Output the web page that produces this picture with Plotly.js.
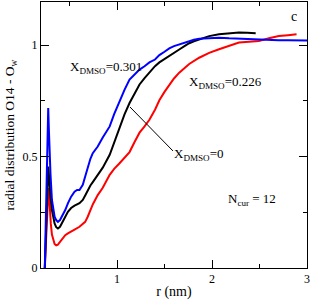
<!DOCTYPE html>
<html>
<head>
<meta charset="utf-8">
<script src="https://cdn.plot.ly/plotly-3.0.1.min.js"></script>
<style>html,body{margin:0;padding:0;background:#fff;}#chart{width:312px;height:300px;}</style>
</head>
<body>
<div id="chart"></div>
<script>
// r (nm) and g(r) values
const rBlue = [0.24,0.255,0.268,0.276,0.283,0.291,0.30,0.315,0.33,0.343,0.36,0.378,0.40,0.43,0.455,0.483,0.517,0.553,0.58,0.605,0.64,0.665,0.692,0.72,0.745,0.797,0.85,0.923,0.97,1.027,1.08,1.132,1.185,1.237,1.29,1.341,1.40,1.446,1.50,1.55,1.60,1.655,1.70,1.76,1.81,1.865,1.92,1.97,2.074,2.18,2.284,2.4,2.5,2.6,2.7,2.8,2.9,3.0];
const gBlue = [0,0.25,0.5,0.718,0.62,0.5,0.42,0.305,0.26,0.23,0.215,0.207,0.215,0.237,0.26,0.29,0.32,0.342,0.35,0.35,0.373,0.41,0.455,0.49,0.515,0.545,0.585,0.635,0.69,0.75,0.80,0.845,0.868,0.89,0.905,0.922,0.935,0.955,0.97,0.985,0.995,1.003,1.01,1.018,1.024,1.028,1.03,1.032,1.033,1.03,1.028,1.025,1.024,1.023,1.022,1.022,1.021,1.02];

const rBlack = [0.24,0.255,0.268,0.276,0.283,0.291,0.30,0.315,0.33,0.343,0.36,0.378,0.40,0.43,0.455,0.483,0.517,0.553,0.605,0.64,0.665,0.692,0.72,0.745,0.797,0.85,0.923,0.97,1.027,1.08,1.132,1.185,1.237,1.29,1.341,1.40,1.446,1.50,1.551,1.60,1.655,1.71,1.76,1.81,1.865,1.92,1.97,2.074,2.18,2.284,2.37,2.46];
const gBlack = [0,0.2,0.38,0.455,0.42,0.365,0.32,0.26,0.22,0.2,0.183,0.177,0.185,0.207,0.23,0.252,0.269,0.28,0.291,0.305,0.325,0.35,0.37,0.385,0.418,0.45,0.508,0.565,0.635,0.69,0.74,0.785,0.823,0.852,0.877,0.905,0.922,0.936,0.95,0.965,0.98,0.995,1.008,1.017,1.026,1.034,1.04,1.048,1.052,1.056,1.055,1.053];

const rRed = [0.24,0.255,0.268,0.278,0.285,0.293,0.303,0.315,0.33,0.343,0.36,0.378,0.40,0.43,0.455,0.483,0.517,0.553,0.605,0.64,0.665,0.692,0.72,0.745,0.797,0.85,0.923,0.97,1.027,1.08,1.132,1.185,1.237,1.29,1.341,1.40,1.446,1.50,1.551,1.60,1.655,1.76,1.865,1.97,2.074,2.18,2.284,2.39,2.493,2.6,2.703,2.8,2.89];
const gRed = [0,0.15,0.29,0.358,0.33,0.26,0.2,0.15,0.12,0.108,0.102,0.105,0.117,0.135,0.147,0.155,0.162,0.172,0.185,0.198,0.207,0.23,0.26,0.285,0.327,0.36,0.418,0.445,0.47,0.495,0.52,0.565,0.607,0.635,0.665,0.71,0.752,0.79,0.823,0.85,0.876,0.915,0.943,0.965,0.981,0.997,1.011,1.015,1.018,1.03,1.04,1.044,1.048];

const serif = 'Liberation Serif, Times New Roman, serif';
const traces = [
  {x: rRed, y: gRed, mode: 'lines', line: {color: '#ff0000', width: 2}},
  {x: rBlack, y: gBlack, mode: 'lines', line: {color: '#000000', width: 2}},
  {x: rBlue, y: gBlue, mode: 'lines', line: {color: '#0000ff', width: 2}}
];
const axisBase = {
  showgrid: false, zeroline: false, showline: true, linecolor: '#000', linewidth: 1,
  mirror: 'ticks', ticks: 'inside', ticklen: 8, tickwidth: 1, tickcolor: '#000',
  tickfont: {family: serif, size: 12, color: '#000'}
};
const layout = {
  width: 312, height: 300,
  margin: {l: 41, r: 5, t: 2, b: 32},
  paper_bgcolor: '#fff', plot_bgcolor: '#fff',
  showlegend: false,
  font: {family: serif, color: '#000'},
  xaxis: Object.assign({}, axisBase, {
    range: [0.2, 3], dtick: 1, tick0: 0,
    minor: {ticks: 'inside', ticklen: 4, dtick: 0.5, tick0: 0, tickcolor: '#000'},
    title: {text: 'r (nm)', font: {family: serif, size: 14, color: '#000'}, standoff: 4}
  }),
  yaxis: Object.assign({}, axisBase, {
    range: [0, 1.193], dtick: 0.5, tick0: 0,
    minor: {ticks: 'inside', ticklen: 4, dtick: 0.25, tick0: 0, tickcolor: '#000'},
    title: {text: 'radial distribution O14 - O<sub>w</sub>', font: {family: serif, size: 13.5, color: '#000'}, standoff: 4}
  }),
  annotations: [
    {x: 0.48, y: 0.9, xref: 'x', yref: 'y', xanchor: 'left', showarrow: false, text: 'X<sub>DMSO</sub>=0.301', font: {family: serif, size: 13, color: '#000'}},
    {x: 1.74, y: 0.83, xref: 'x', yref: 'y', xanchor: 'left', showarrow: false, text: 'X<sub>DMSO</sub>=0.226', font: {family: serif, size: 13, color: '#000'}},
    {x: 1.58, y: 0.51, xref: 'x', yref: 'y', xanchor: 'left', showarrow: false, text: 'X<sub>DMSO</sub>=0', font: {family: serif, size: 13, color: '#000'}},
    {x: 2.15, y: 0.305, xref: 'x', yref: 'y', xanchor: 'left', showarrow: false, text: 'N<sub>cur</sub> = 12', font: {family: serif, size: 13, color: '#000'}},
    {x: 2.86, y: 1.13, xref: 'x', yref: 'y', xanchor: 'center', showarrow: false, text: 'c', font: {family: serif, size: 14, color: '#000'}}
  ],
  shapes: [
    {type: 'line', xref: 'x', yref: 'y', x0: 1.137, y0: 0.722, x1: 1.589, y1: 0.525, line: {color: '#000', width: 1}}
  ]
};
Plotly.newPlot('chart', traces, layout, {displayModeBar: false, staticPlot: true});
</script>
</body>
</html>
